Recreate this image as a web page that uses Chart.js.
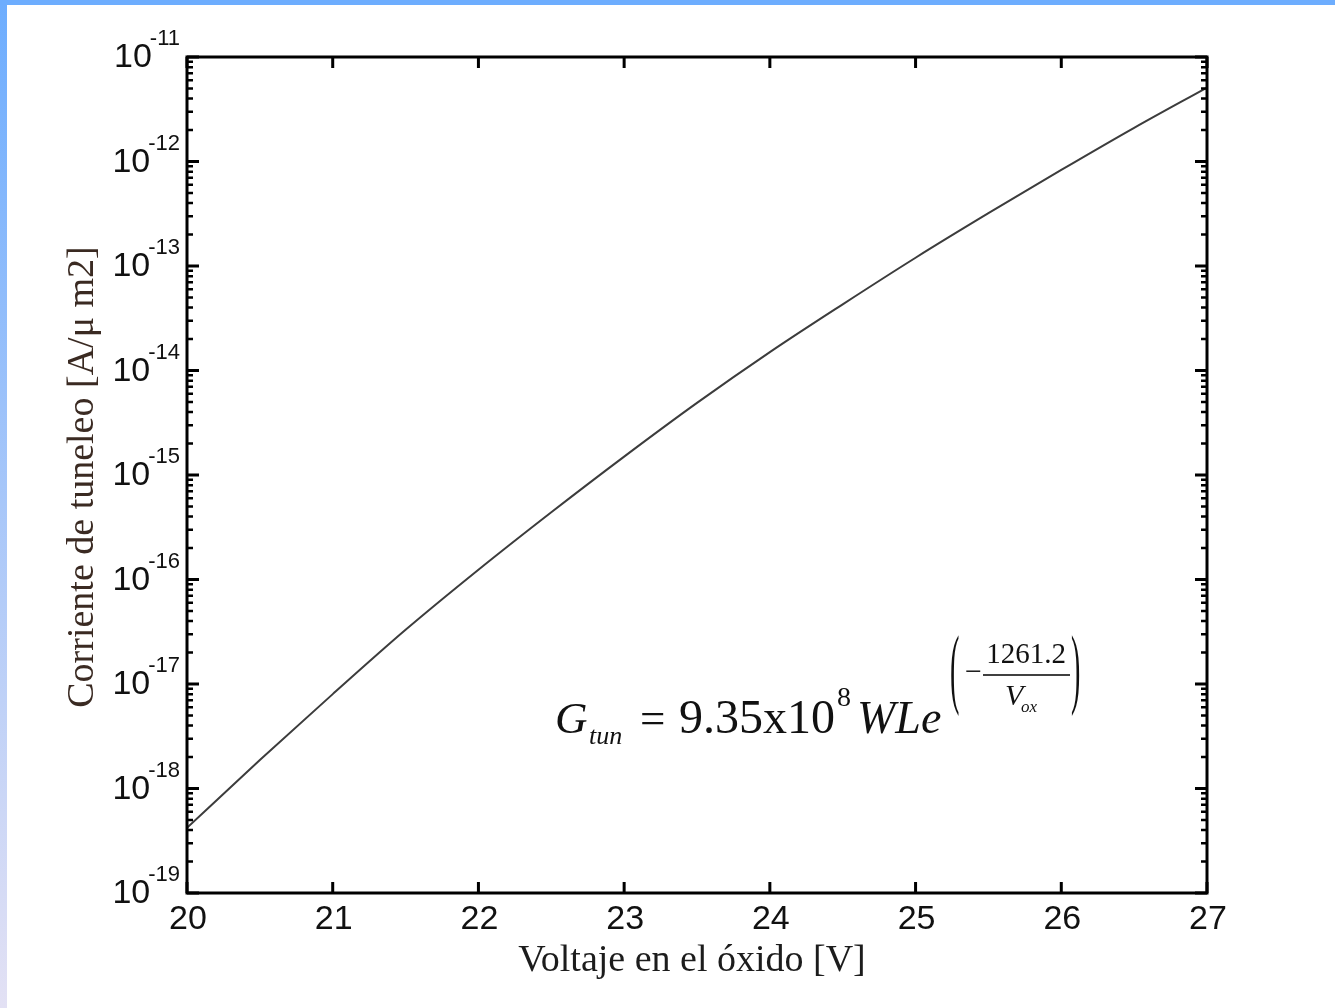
<!DOCTYPE html>
<html>
<head>
<meta charset="utf-8">
<script src="https://cdn.jsdelivr.net/npm/chart.js@4.4.1/dist/chart.umd.min.js"></script>
<style>
html, body { margin: 0; padding: 0; background: #fff; }
#wrap { position: relative; width: 1335px; height: 1008px; overflow: hidden; background: #fff; }
#topbar { position: absolute; left: 0; top: 0; width: 1335px; height: 5px; background: #6dadfe; }
#leftbar { position: absolute; left: 0; top: 0; width: 7px; height: 1008px; background: linear-gradient(to bottom, #6dadfe, #e3e1f4); }
canvas { position: absolute; left: 0; top: 0; }
</style>
</head>
<body>
<div id="wrap">
  <canvas id="chart_tunnelCurrent" width="1335" height="1008"></canvas>
  <div id="leftbar"></div>
  <div id="topbar"></div>
</div>
<script>
// values (oxide voltage in V, current in A/um2)
var voltages = [20, 20.5, 21, 21.5, 22, 22.5, 23, 23.5, 24, 24.5, 25, 25.5, 26, 26.5, 27];
var tunnelCurrent = [4.2e-19, 1.87e-18, 8.0e-18, 3.3e-17, 1.24e-16, 4.4e-16, 1.5e-15, 4.9e-15,
                     1.5e-14, 4.3e-14, 1.2e-13, 3.2e-13, 8.3e-13, 2.1e-12, 5.1e-12];
var xTicks = [20, 21, 22, 23, 24, 25, 26, 27];
var yExponents = [-19, -18, -17, -16, -15, -14, -13, -12, -11];

var xTitle = 'Voltaje en el óxido [V]';
var yTitle = 'Corriente de tuneleo [A/\u03bc m2]';

var sansFont = '"Liberation Sans", Arial, sans-serif';
var serifFont = '"Liberation Serif", "Times New Roman", serif';

function put(ctx, text, font, x, y, align) {
    ctx.font = font;
    ctx.textAlign = align || 'left';
    ctx.fillText(text, x, y);
    return x + ctx.measureText(text).width;
}

var matlabAxes = {
    id: 'matlabAxes',
    afterDraw: (chart) => {
        const ctx = chart.ctx;
        const xs = chart.scales.x;
        const ys = chart.scales.y;
        const a = chart.chartArea;
        ctx.save();
        ctx.strokeStyle = '#000';
        ctx.fillStyle = '#111';
        ctx.textBaseline = 'alphabetic';

        // y ticks, major + minor, on both sides
        yExponents.forEach(e => {
            const py = ys.getPixelForValue(Math.pow(10, e));
            ctx.lineWidth = 3;
            ctx.beginPath();
            ctx.moveTo(a.left, py); ctx.lineTo(a.left + 12, py);
            ctx.moveTo(a.right, py); ctx.lineTo(a.right - 12, py);
            ctx.stroke();
            if (e < -11) {
                ctx.lineWidth = 2.5;
                ctx.beginPath();
                for (let m = 2; m <= 9; m++) {
                    const my = ys.getPixelForValue(m * Math.pow(10, e));
                    ctx.moveTo(a.left, my); ctx.lineTo(a.left + 6, my);
                    ctx.moveTo(a.right, my); ctx.lineTo(a.right - 6, my);
                }
                ctx.stroke();
            }
            // label 10^e
            const exp = '-' + Math.abs(e);
            ctx.font = '22px ' + sansFont;
            const expW = ctx.measureText(exp).width;
            ctx.font = '34px ' + sansFont;
            const baseW = ctx.measureText('10').width;
            const right = a.left - 7;
            put(ctx, exp, '22px ' + sansFont, right - expW, py - 12);
            put(ctx, '10', '34px ' + sansFont, right - expW - baseW + 2, py + 10);
        });

        // x ticks top and bottom
        ctx.lineWidth = 3;
        xTicks.forEach(v => {
            const px = xs.getPixelForValue(v);
            ctx.beginPath();
            ctx.moveTo(px, a.bottom); ctx.lineTo(px, a.bottom - 11);
            ctx.moveTo(px, a.top); ctx.lineTo(px, a.top + 11);
            ctx.stroke();
            put(ctx, String(v), '34px ' + sansFont, px + 1, a.bottom + 36, 'center');
        });

        // frame
        ctx.lineWidth = 3;
        ctx.strokeRect(a.left, a.top, a.right - a.left, a.bottom - a.top);

        // axis titles
        ctx.fillStyle = '#1c1c1c';
        put(ctx, xTitle, '38px ' + serifFont, (a.left + a.right) / 2 - 5, 971, 'center');
        ctx.save();
        ctx.translate(83, (a.top + a.bottom) / 2 + 2);
        ctx.rotate(-Math.PI / 2);
        ctx.textBaseline = 'middle';
        ctx.fillStyle = '#3a2a22';
        put(ctx, yTitle, '38px ' + serifFont, 0, 0, 'center');
        ctx.restore();

        // equation
        ctx.fillStyle = '#111';
        put(ctx, 'G', 'italic 45px ' + serifFont, 555, 733);
        put(ctx, 'tun', 'italic 26px ' + serifFont, 589, 744);
        put(ctx, '=', '45px ' + serifFont, 640, 733);
        let ex = put(ctx, '9.35x10', '48px ' + serifFont, 679, 733);
        put(ctx, '8', '28px ' + serifFont, ex + 2, 706);
        put(ctx, 'WLe', 'italic 46px ' + serifFont, 857, 733);
        [['(', 950], [')', 1071]].forEach(p => {
            ctx.save();
            ctx.translate(p[1], 697);
            ctx.scale(0.32, 1);
            put(ctx, p[0], '88px ' + serifFont, 0, 0);
            ctx.restore();
        });
        put(ctx, '\u2212', '30px ' + serifFont, 965, 681);
        put(ctx, '1261.2', '29px ' + serifFont, 1026, 663, 'center');
        ctx.lineWidth = 1.5;
        ctx.beginPath();
        ctx.moveTo(983, 675); ctx.lineTo(1070, 675);
        ctx.stroke();
        put(ctx, 'V', 'italic 30px ' + serifFont, 1005, 705);
        put(ctx, 'ox', 'italic 17px ' + serifFont, 1021, 712);
        ctx.restore();
    }
};

var chart_tunnelCurrent = new Chart(document.getElementById('chart_tunnelCurrent'), {
    type: 'line',
    data: {
        labels: voltages,
        datasets: [
            {
                label: 'Corriente de tuneleo',
                data: voltages.map((v, i) => ({ x: v, y: tunnelCurrent[i] })),
                borderColor: '#3c3c3c',
                borderWidth: 2,
                pointRadius: 0,
                cubicInterpolationMode: 'monotone',
                fill: false
            }
        ]
    },
    options: {
        animation: false,
        responsive: false,
        devicePixelRatio: 1,
        layout: {
            padding: { left: 187, right: 128, top: 57, bottom: 115 }
        },
        plugins: {
            legend: { display: false },
            tooltip: { enabled: false }
        },
        scales: {
            x: {
                type: 'linear',
                min: 20,
                max: 27,
                display: false
            },
            y: {
                type: 'logarithmic',
                min: 1e-19,
                max: 1e-11,
                display: false
            }
        }
    },
    plugins: [matlabAxes]
});
</script>
</body>
</html>
